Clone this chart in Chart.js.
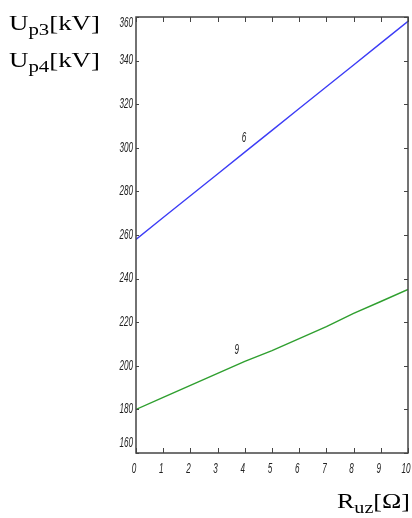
<!DOCTYPE html>
<html>
<head>
<meta charset="utf-8">
<script src="https://cdn.jsdelivr.net/npm/chart.js@4"></script>
<style>
    html, body { margin: 0; padding: 0; background: #fff; }
    #wrap { width: 412px; height: 518px; position: relative; }
</style>
</head>
<body>
<div id="wrap"><canvas id="chart" width="412" height="518"></canvas></div>
<script>
const rValues = [0, 1, 2, 3, 4, 5, 6, 7, 8, 9, 10];
const up3Values = [258, 268, 278, 288, 298, 308, 318, 328, 338, 348, 358];
const up4Values = [180, 185.5, 191, 196.5, 202, 207, 212.5, 218, 224, 229.5, 235];
const curveLabels = ['6', '9'];
const xTicks = [0, 1, 2, 3, 4, 5, 6, 7, 8, 9, 10];
const yTicks = [160, 180, 200, 220, 240, 260, 280, 300, 320, 340, 360];

const toPoints = (xs, ys) => xs.map((x, i) => ({ x: x, y: ys[i] }));

// narrow italic text, like the old plot labels
const narrowText = (ctx, text, x, y, align) => {
    ctx.save();
    ctx.font = 'italic 14px "Liberation Sans", Arial, sans-serif';
    ctx.textBaseline = 'middle';
    ctx.textAlign = align;
    ctx.translate(x, y);
    ctx.scale(0.58, 1);
    ctx.fillText(text, 0, 0);
    ctx.restore();
};

// title with a subscript, squeezed/stretched to a given width
const title = (ctx, x, y, width, main, sub, rest) => {
    const big = '22px "Liberation Serif", "DejaVu Serif", serif';
    const small = '17px "Liberation Serif", "DejaVu Serif", serif';
    ctx.font = big;
    const w1 = ctx.measureText(main).width;
    const w3 = ctx.measureText(rest).width;
    ctx.font = small;
    const w2 = ctx.measureText(sub).width;
    ctx.save();
    ctx.translate(x, y);
    ctx.scale(width / (w1 + w2 + w3), 1);
    ctx.textAlign = 'left';
    ctx.textBaseline = 'alphabetic';
    ctx.font = big;
    ctx.fillText(main, 0, 0);
    ctx.font = small;
    ctx.fillText(sub, w1, 5);
    ctx.font = big;
    ctx.fillText(rest, w1 + w2, 0);
    ctx.restore();
};

// frame with inward ticks, tick labels, curve numbers and axis titles
const framePlugin = {
    id: 'frame',
    afterDraw(chart) {
        const ctx = chart.ctx;
        const a = chart.chartArea;
        const xs = chart.scales.x;
        const ys = chart.scales.y;
        ctx.save();
        ctx.strokeStyle = '#444';
        ctx.lineWidth = 1.5;
        ctx.strokeRect(a.left, a.top, a.right - a.left, a.bottom - a.top);
        ctx.lineWidth = 1;
        ctx.beginPath();
        xs.ticks.forEach(t => {
            const px = Math.round(xs.getPixelForValue(t.value)) + 0.5;
            ctx.moveTo(px, a.bottom); ctx.lineTo(px, a.bottom - 5);
            ctx.moveTo(px, a.top); ctx.lineTo(px, a.top + 5);
        });
        ys.ticks.forEach(t => {
            const py = Math.round(ys.getPixelForValue(t.value)) + 0.5;
            ctx.moveTo(a.left, py); ctx.lineTo(a.left + 3, py);
            ctx.moveTo(a.right, py); ctx.lineTo(a.right - 4, py);
        });
        ctx.stroke();

        ctx.fillStyle = '#222';
        xs.ticks.forEach(t => {
            narrowText(ctx, String(t.value), xs.getPixelForValue(t.value) - 2, a.bottom + 16, 'center');
        });
        ys.ticks.forEach(t => {
            let py = ys.getPixelForValue(t.value);
            py = Math.min(Math.max(py, a.top + 6), a.bottom - 10);
            narrowText(ctx, String(t.value), a.left - 3, py, 'right');
        });

        // curve numbers
        narrowText(ctx, curveLabels[0], xs.getPixelForValue(3.97), ys.getPixelForValue(304.5), 'center');
        narrowText(ctx, curveLabels[1], xs.getPixelForValue(3.7), ys.getPixelForValue(207.2), 'center');

        // axis titles
        ctx.fillStyle = '#000';
        title(ctx, 9, 30, 91, 'U', 'p3', '[kV]');
        title(ctx, 9, 67, 91, 'U', 'p4', '[kV]');
        title(ctx, 337, 508, 73, 'R', 'uz', '[\u03A9]');
        ctx.restore();
    }
};

new Chart(document.getElementById('chart').getContext('2d'), {
    type: 'line',
    data: {
        datasets: [
            {
                label: 'Up3',
                data: toPoints(rValues, up3Values),
                borderColor: '#3c3cf6',
                borderWidth: 1.4,
                pointRadius: 0,
                tension: 0
            },
            {
                label: 'Up4',
                data: toPoints(rValues, up4Values),
                borderColor: '#2f9f2f',
                borderWidth: 1.4,
                pointRadius: 0,
                tension: 0
            }
        ]
    },
    options: {
        responsive: false,
        animation: false,
        events: [],
        layout: { padding: { top: 17, right: 4, left: 0, bottom: 0 } },
        plugins: { legend: { display: false }, tooltip: { enabled: false } },
        scales: {
            x: {
                type: 'linear',
                min: 0,
                max: 10,
                afterFit: (s) => { s.height = 65; },
                afterBuildTicks: (s) => { s.ticks = xTicks.map(v => ({ value: v })); },
                border: { display: false },
                grid: { display: false, drawTicks: false },
                ticks: { display: false }
            },
            y: {
                type: 'linear',
                min: 160,
                max: 360,
                afterFit: (s) => { s.width = 136; },
                afterBuildTicks: (s) => { s.ticks = yTicks.map(v => ({ value: v })); },
                border: { display: false },
                grid: { display: false, drawTicks: false },
                ticks: { display: false }
            }
        }
    },
    plugins: [framePlugin]
});
</script>
</body>
</html>
